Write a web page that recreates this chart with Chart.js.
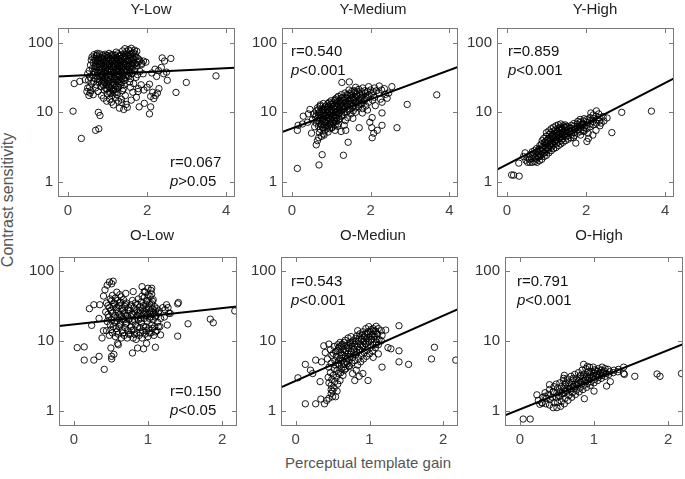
<!DOCTYPE html>
<html>
<head>
<meta charset="UTF-8">
<title>Contrast sensitivity vs perceptual template gain</title>
<script src="https://cdn.jsdelivr.net/npm/chart.js"></script>
<style>
    body { margin: 0; background: #fff; font-family: "Liberation Sans", Arial, sans-serif; }
    #wrap { position: relative; width: 685px; height: 479px; overflow: hidden; }
    canvas { position: absolute; }
    .ttl { position: absolute; font-size: 15px; line-height: 18px; color: #222; transform: translateX(-50%); white-space: nowrap; }
    .ann { position: absolute; font-size: 15px; line-height: 19px; color: #111; white-space: nowrap; }
    .axl { position: absolute; font-size: 15px; line-height: 18px; color: #555; white-space: nowrap; }
</style>
</head>
<body>
<div id="wrap">
    <div class="axl" style="left:368px;top:454px;transform:translateX(-50%)">Perceptual template gain</div>
    <div class="axl" style="left:8px;top:200px;font-size:16px;transform:translate(-50%,-50%) rotate(-90deg)">Contrast sensitivity</div>
</div>
<script>
// tick labels
const topTicks = [0, 2, 4];
const bottomTicks = [0, 1, 2];
const yTicks = [1, 10, 100];

// regression line values at the left and right edge of each panel
const yLowFit = [32.8, 44];
const yMedFit = [5.2, 45.4];
const yHighFit = [1.49, 31];
const oLowFit = [16.3, 31.2];
const oMedFit = [2.15, 28.5];
const oHighFit = [0.855, 9.0];

// points [gain, contrast sensitivity]
const yLowPts = [
    [0.13,10.4],[0.34,4.2],[0.16,26],[0.30,28],[0.44,29.5],[0.77,10],[0.81,9],[0.70,5.5],[0.78,5.8],
    [3.74,33.6],[2.99,27],[2.73,19.4],[2.60,60],[2.38,61],[2.44,55],[2.49,38],[2.51,29],[2.30,22],[2.26,19],
    [2.21,17.5],[2.14,19.5],[2.09,17],[2.17,15.8],[2.06,9.5],[2.09,12],[1.80,12],[1.93,13.5],[2.00,23],[2.06,25.5],
    [1.92,21],[1.73,16.5],[1.77,20],[1.60,15],[1.47,13],[1.50,11.8],[1.30,11.5],[1.15,12.8],[1.36,13.8],[2.20,42],
    [2.29,40],[2.36,44.5],[2.12,37],[1.41,11],[0.48,20],[0.50,22.5],[0.53,17.5],[0.56,19],[2.24,33],[2.42,36],
    [1.44,83],[1.53,80],[1.60,84],[1.68,79],[1.74,76],
    [1.22,74],[1.38,77],[1.48,75],[1.57,77],[1.66,73],[0.74,71],
    [0.66,68],[0.80,70],[0.94,69],[1.04,71],[1.14,68],[1.26,70],[1.36,68],[1.47,70],[1.58,68],[1.70,69],
    [0.61,63],[0.72,65],[0.84,62],[0.93,64],[1.02,63],[1.11,65],[1.20,62],[1.30,64],[1.42,63],[1.52,65],[1.64,62],[1.77,60],
    [0.59,57],[0.69,59],[0.78,57],[0.88,58],[0.97,56],[1.07,59],[1.17,57],[1.27,58],[1.36,56],[1.46,59],[1.56,57],[1.67,58],[1.81,57],[1.91,55],
    [0.64,52],[0.75,54],[0.84,52],[0.94,53],[1.04,51],[1.13,54],[1.23,52],[1.33,53],[1.43,51],[1.53,54],[1.63,52],[1.75,53],[1.87,51],[1.97,53],
    [0.57,48],[0.69,47],[0.80,49],[0.90,47],[1.00,48],[1.10,46],[1.20,49],[1.30,47],[1.40,48],[1.50,46],[1.62,48],[1.74,47],[1.86,49],
    [0.62,43],[0.74,45],[0.86,43],[0.96,44],[1.06,42.5],[1.16,45],[1.26,43],[1.36,44],[1.46,42],[1.58,44],[1.70,43],
    [0.54,40],[0.66,39],[0.78,41],[0.90,39],[1.00,40],[1.10,38.5],[1.22,41],[1.32,39],[1.42,40],[1.55,38.5],[1.68,40],[1.82,39],
    [0.50,36],[0.63,35],[0.75,37],[0.86,35],[0.97,36],[1.07,34.5],[1.18,37],[1.28,35],[1.39,36],[1.50,34.5],[1.62,36],[1.76,35],[1.90,36],
    [0.56,32],[0.68,31],[0.80,33],[0.92,31.5],[1.03,32],[1.14,30.5],[1.24,33],[1.35,31],[1.46,32],[1.58,30.5],[1.72,32],
    [0.52,29],[0.65,28],[0.78,29.5],[0.90,28],[1.00,29],[1.12,27.5],[1.22,29.5],[1.32,28],[1.44,29],[1.56,27.5],
    [0.60,26],[0.72,25],[0.85,26.5],[0.97,25],[1.08,26],[1.18,24.5],[1.30,26],[1.42,25],[1.66,26],[1.85,25],
    [0.55,23],[0.70,22.5],[0.84,23.5],[0.96,22],[1.06,23],[1.16,21.5],[1.28,23],[1.40,22],[1.58,23],[1.78,22],
    [0.58,20.5],[0.76,20],[0.92,21],[1.04,19.5],[1.14,20.5],[1.26,19.5],[1.38,20.5],[1.64,19.5],
    [0.64,18],[0.85,17.5],[1.00,18.5],[1.12,17.5],[1.24,18],[1.45,17.5],
    [0.90,16],[1.06,15.5],[1.20,16.2],[1.35,15.5],
    [0.98,14.5],[1.10,14],[1.28,14.5],
    [0.73,67],[0.88,67],[0.99,66],[1.09,67.5],[1.19,66],[1.31,67],[1.41,65.5],[1.53,67],[1.62,71],
    [0.66,61],[0.78,61],[0.90,60.5],[1.00,61.5],[1.12,60.5],[1.24,61],[1.34,60],[1.44,61.5],[1.58,60.5],[1.72,63],
    [0.70,55.5],[0.82,55],[0.92,56],[1.02,55],[1.12,56],[1.22,55],[1.31,55.5],[1.41,54.5],[1.51,56],[1.62,55],[1.80,54],
    [0.75,50.5],[0.86,50],[0.96,51],[1.06,50],[1.16,51],[1.26,50],[1.36,50.5],[1.47,49.5],[1.58,50.5],[1.69,50],
    [0.68,46],[0.80,45.5],[0.91,46],[1.01,45.5],[1.11,46.5],[1.21,45.5],[1.31,46],[1.41,45],[1.52,46],[1.64,45.5],
    [0.72,42],[0.84,41.5],[0.95,42],[1.05,41],[1.15,42],[1.27,41.5],[1.37,42],[1.49,41],[1.62,42],
    [0.69,38],[0.81,38],[0.92,37.5],[1.02,38.5],[1.13,37.5],[1.23,38.5],[1.34,37.5],[1.45,38],[1.57,37.5],
    [0.73,34],[0.86,33.5],[0.98,34],[1.09,33],[1.19,34.5],[1.30,33.5],[1.41,34],[1.53,33],
    [0.74,30.5],[0.86,30],[0.96,30.5],[1.07,30],[1.18,31],[1.29,30],[1.40,30.5],
    [0.79,27.5],[0.92,27],[1.03,27.5],[1.14,27],[1.25,27.5],[1.36,27],
    [0.90,24.5],[1.02,24],[1.12,24.5],[1.22,24],[1.34,24.5],
    [0.99,21.7],[1.10,22],[1.21,21.5],
    [1.08,19.2],[1.19,19]
];

const yMedPts = [
    [0.14,1.55],[0.69,1.74],[0.77,2.45],[1.31,2.4],[1.43,3.7],[0.14,5.5],[0.16,6.5],[0.27,6.8],[0.29,8.8],[0.50,5.0],
    [0.58,6.2],[0.62,3.4],[0.65,3.9],[0.68,4.3],[0.75,4.5],[0.82,4.7],[1.71,6.0],[2.04,4.3],[2.08,5.0],[2.17,5.5],
    [2.29,6.5],[2.03,6.0],[2.67,6.0],[2.93,13],[3.68,17.9],[2.29,9.8],[2.29,14],[2.04,8.4],[1.92,10.8],[1.79,9.8],
    [2.42,16],[2.38,18.2],[2.46,19],[2.54,23.5],[1.27,27],[1.46,27.5],[1.33,6.5],[1.37,5.5],[1.25,5.3],[0.42,9.5],
    [0.46,11],[0.40,7.2],[1.55,8.2],[1.62,10],[2.12,12.5],[1.98,7.2],
    [1.62,23],[1.80,22.5],[1.95,23.5],[2.10,22.5],[2.22,24],[2.35,22],
    [1.45,21],[1.58,20.5],[1.70,21.5],[1.85,20.5],[2.00,21],[2.15,20.5],[2.28,21],
    [1.35,19],[1.48,18.5],[1.60,19.5],[1.72,18.5],[1.86,19],[2.02,18.5],[2.20,19],
    [1.18,17],[1.30,16.5],[1.42,17.5],[1.54,16.5],[1.66,17],[1.78,16.5],[1.92,17],[2.10,16.5],
    [1.10,15.5],[1.22,15],[1.34,15.8],[1.46,15],[1.58,15.5],[1.70,15],[1.85,15.5],[2.05,15],[2.25,15.5],
    [0.95,14],[1.05,13.6],[1.15,14.2],[1.26,13.6],[1.38,14],[1.50,13.6],[1.62,14.2],[1.76,13.6],[1.95,14],
    [0.72,12.8],[0.86,12.4],[0.98,13],[1.08,12.4],[1.18,12.8],[1.30,12.4],[1.42,13],[1.55,12.4],[1.70,12.8],[1.88,12.4],
    [0.65,11.6],[0.78,11.2],[0.90,11.8],[1.00,11.2],[1.10,11.6],[1.22,11.2],[1.34,11.8],[1.48,11.2],[1.62,11.6],[1.80,11.3],
    [0.62,10.5],[0.74,10.2],[0.85,10.7],[0.95,10.2],[1.05,10.5],[1.15,10.1],[1.26,10.6],[1.40,10.2],[1.56,10.5],
    [0.55,9.5],[0.68,9.2],[0.80,9.7],[0.90,9.2],[1.00,9.5],[1.10,9.2],[1.20,9.7],[1.33,9.3],[1.50,9.5],
    [0.60,8.6],[0.72,8.3],[0.84,8.8],[0.94,8.3],[1.04,8.6],[1.14,8.3],[1.26,8.7],[1.42,8.4],
    [0.52,7.8],[0.66,7.6],[0.78,7.9],[0.88,7.5],[0.98,7.8],[1.08,7.5],[1.20,7.9],[1.36,7.6],
    [0.62,7.0],[0.74,6.8],[0.85,7.1],[0.96,6.8],[1.06,7.0],[1.18,6.8],
    [0.68,6.3],[0.80,6.1],[0.92,6.4],[1.02,6.1],[1.16,6.3],
    [0.72,5.7],[0.84,5.5],[0.96,5.8],[1.10,5.5],
    [0.70,5.1],[0.80,4.9],[0.92,5.2],
    [1.52,20],[1.65,20.2],[1.78,19.8],[1.92,20],[2.08,19.8],
    [1.26,18],[1.40,18],[1.52,17.8],[1.65,18.2],[1.80,17.8],[1.96,18],
    [1.14,16.2],[1.26,16],[1.38,16.4],[1.50,16],[1.62,16.2],[1.74,16],[1.88,16.3],
    [1.00,14.7],[1.10,14.8],[1.20,14.6],[1.32,14.8],[1.44,14.5],[1.56,14.8],[1.68,14.5],[1.84,14.7],
    [0.80,13.4],[0.92,13.4],[1.03,13.2],[1.13,13.5],[1.24,13.2],[1.36,13.4],[1.48,13.2],[1.62,13.4],[1.78,13.2],
    [0.72,12.2],[0.84,12],[0.94,12.2],[1.05,11.9],[1.16,12.2],[1.27,11.9],[1.40,12.2],[1.54,12],[1.70,12.1],
    [0.68,11],[0.80,10.8],[0.90,11],[1.00,10.8],[1.10,11],[1.20,10.8],[1.31,11],[1.45,10.8],
    [0.70,10],[0.80,9.9],[0.90,10],[1.00,9.9],[1.10,10],[1.21,9.9],[1.33,10],
    [0.62,9],[0.74,8.9],[0.85,9.1],[0.95,8.9],[1.05,9.1],[1.15,8.9],[1.27,9],
    [0.66,8.2],[0.78,8.1],[0.89,8.3],[0.99,8.1],[1.09,8.2],[1.20,8.1],
    [0.70,7.4],[0.82,7.3],[0.93,7.4],[1.02,7.3],[1.13,7.4],
    [0.74,6.6],[0.86,6.5],[0.98,6.6],[1.10,6.5],
    [0.78,6.0],[0.90,5.95],[1.02,6.0]
];

const yHighPts = [
    [0.12,1.25],[0.17,1.24],[0.31,1.2],[0.30,1.85],[0.48,2.04],[2.90,10],[3.65,10.4],[2.65,5.1],[2.26,10.5],[2.43,8.7],
    [2.53,8.3],[2.45,7.5],[2.35,6.4],[2.25,5.5],[2.17,4.7],[2.06,4.2],[2.02,3.8],[1.86,4.7],[1.74,3.6],[1.68,4.3],
    [2.32,9.5],[2.12,9.8],[2.38,7.0],[2.05,5.0],[1.95,5.3],[0.42,2.3],[0.46,2.6],
    [0.52,1.9],[0.53,2.2],
    [0.58,1.9],[0.57,2.1],[0.59,2.45],
    [0.64,1.9],[0.63,2.15],[0.65,2.4],[0.64,2.7],
    [0.70,1.95],[0.71,2.2],[0.69,2.5],[0.70,2.8],
    [0.76,1.9],[0.75,2.1],[0.77,2.4],[0.76,2.7],[0.75,3.0],
    [0.82,2.0],[0.83,2.3],[0.81,2.6],[0.82,2.95],[0.83,3.3],
    [0.88,2.1],[0.87,2.4],[0.89,2.75],[0.88,3.1],[0.87,3.5],[0.89,3.9],
    [0.94,2.3],[0.95,2.6],[0.93,2.95],[0.94,3.3],[0.95,3.7],[0.93,4.2],
    [1.00,2.4],[1.01,2.75],[0.99,3.1],[1.00,3.5],[1.01,3.95],[0.99,4.5],[1.00,5.1],
    [1.06,2.6],[1.05,2.95],[1.07,3.35],[1.06,3.75],[1.05,4.2],[1.07,4.8],[1.06,5.4],
    [1.12,2.8],[1.13,3.15],[1.11,3.55],[1.12,4.0],[1.13,4.5],[1.11,5.1],[1.12,5.8],
    [1.18,3.0],[1.17,3.4],[1.19,3.8],[1.18,4.25],[1.17,4.8],[1.19,5.4],[1.18,6.1],
    [1.24,3.1],[1.25,3.5],[1.23,3.95],[1.24,4.4],[1.25,4.95],[1.23,5.6],[1.24,6.4],
    [1.30,3.3],[1.29,3.7],[1.31,4.2],[1.30,4.7],[1.29,5.3],[1.31,5.9],[1.30,6.6],
    [1.36,3.5],[1.37,3.9],[1.35,4.4],[1.36,4.9],[1.37,5.5],[1.35,6.1],[1.36,6.8],
    [1.42,3.7],[1.41,4.15],[1.43,4.65],[1.42,5.2],[1.41,5.8],[1.43,6.4],
    [1.48,3.9],[1.49,4.4],[1.47,4.9],[1.48,5.4],[1.49,6.0],[1.47,6.6],
    [1.55,4.1],[1.54,4.6],[1.56,5.1],[1.55,5.6],[1.54,6.2],
    [1.62,4.3],[1.63,4.8],[1.61,5.3],[1.62,5.9],[1.63,6.5],
    [1.70,4.6],[1.69,5.1],[1.71,5.7],[1.70,6.3],[1.69,6.9],
    [1.78,5.0],[1.79,5.6],[1.77,6.2],[1.78,6.8],[1.79,7.4],
    [1.86,5.3],[1.85,5.9],[1.87,6.5],[1.86,7.2],[1.85,7.9],
    [1.94,5.5],[1.95,6.1],[1.93,6.8],[1.94,7.5],[1.95,8.1],
    [2.02,5.8],[2.01,6.5],[2.03,7.2],[2.02,7.9],
    [2.10,6.2],[2.11,6.9],[2.09,7.6],[2.10,8.4],
    [2.18,6.6],[2.17,7.4],[2.19,8.2],[2.18,9.2],
    [2.26,7.0],[2.27,7.9],[2.25,8.8],
    [2.34,7.5],[2.33,8.4],
    [0.97,2.9],[0.97,3.7],[1.03,3.1],[1.03,4.0],[1.09,3.3],[1.09,4.3],[1.15,3.6],[1.15,4.6],[1.21,3.8],[1.21,4.9],
    [1.27,4.0],[1.27,5.2],[1.33,4.3],[1.33,5.5],[1.39,4.5],[1.39,5.8],[1.45,4.7],[1.45,6.1],[1.51,5.0],[1.51,6.3],
    [1.58,5.3],[1.66,5.5],[1.74,5.9],[1.82,6.3],[1.90,6.7],[0.91,2.55],[0.85,2.45],[0.79,2.25]
];

const oLowPts = [
    [0.045,8.0],[0.14,8.2],[0.14,5.3],[0.27,5.3],[0.34,6.0],[0.41,3.9],[0.21,29],[0.27,33],[0.35,33],[0.24,16.7],
    [0.34,21],[0.40,44],[0.42,54],[0.45,63],[0.48,70],[0.51,66],[0.53,72],[0.80,51],[0.95,51],[1.00,57],
    [1.05,57],[1.05,47],[1.40,34],[1.41,35.5],[1.26,16.9],[1.17,12.2],[1.40,11.7],[1.54,17.6],[1.84,20.5],[1.88,18.2],
    [2.17,26.9],[1.30,24.8],[1.10,8.1],[0.94,7.7],[0.79,6.7],[0.86,7.9],[0.50,7.9],[0.51,6.0],[0.51,5.5],[0.54,6.4],
    [0.59,9.2],[0.60,8.8],[0.98,9.2],[0.38,11],[0.40,14],[0.58,50],[0.62,46],[0.70,48],[0.92,60],[1.20,30],[1.25,33],
    [0.44,14],[0.45,19],[0.43,26],[0.44,35],
    [0.48,12],[0.49,17],[0.47,22],[0.48,30],[0.49,40],
    [0.52,13],[0.53,16],[0.51,20],[0.52,25],[0.53,31],[0.51,38],[0.52,45],
    [0.56,11.5],[0.57,15],[0.55,18.5],[0.56,23],[0.57,28],[0.55,34],[0.56,41],
    [0.60,12.5],[0.61,16],[0.59,21],[0.60,26],[0.61,32],[0.59,38],
    [0.64,11],[0.65,14],[0.63,18],[0.64,23],[0.65,29],[0.63,36],[0.64,43],
    [0.68,12],[0.69,15.5],[0.67,20],[0.68,25],[0.69,31],[0.67,39],
    [0.72,11],[0.73,14],[0.71,18],[0.72,22.5],[0.73,28],[0.71,35],
    [0.76,12.5],[0.77,16],[0.75,21],[0.76,27],[0.77,33],
    [0.80,11],[0.81,14.5],[0.79,19],[0.80,24],[0.81,30],[0.79,38],
    [0.84,10.5],[0.85,13],[0.83,17],[0.84,22],[0.85,28],[0.83,35],
    [0.88,12],[0.89,15.5],[0.87,20],[0.88,25],[0.89,31],[0.87,40],
    [0.92,11],[0.93,14],[0.91,18],[0.92,23],[0.93,29],[0.91,36],[0.92,44],
    [0.96,12.5],[0.97,16],[0.95,21],[0.96,26],[0.97,33],[0.95,42],[0.96,50],
    [1.00,11.5],[1.01,15],[0.99,19],[1.00,24],[1.01,30],[0.99,38],[1.00,46],
    [1.04,13],[1.05,17],[1.03,22],[1.04,27],[1.05,34],[1.03,43],[1.04,53],
    [1.08,12],[1.09,16],[1.07,20],[1.08,25],[1.09,31],[1.07,39],
    [1.12,14],[1.13,18.5],[1.11,23],[1.12,29],
    [1.16,16],[1.17,21],[1.15,27],
    [1.22,22],[1.23,28],
    [1.28,25],[1.27,30],
    [0.50,14.5],[0.50,27.5],[0.54,22],[0.54,35],[0.58,13.5],[0.58,19.5],[0.58,30],[0.62,17],[0.62,24],[0.62,35],
    [0.66,13],[0.66,21],[0.66,27],[0.70,17.5],[0.70,23],[0.70,33],[0.74,12.5],[0.74,20],[0.74,30],[0.78,14],
    [0.78,24],[0.82,12.5],[0.82,20],[0.82,26],[0.86,16],[0.86,23],[0.86,33],[0.90,13],[0.90,21],[0.90,27],
    [0.94,16],[0.94,25],[0.94,32],[0.98,14],[0.98,23],[0.98,29],[0.98,37],[1.02,13],[1.02,21],[1.02,26],
    [1.02,34],[1.06,15],[1.06,24],[1.06,29],[1.06,37],[1.10,13.5],[1.10,22],[1.10,27],[1.14,16],[1.14,25],
    [0.46,24],[0.46,32]
];

const oMedPts = [
    [0.13,1.25],[0.27,1.25],[0.39,1.25],[0.34,1.46],[0.42,1.4],[0.45,1.5],[0.50,1.58],[0.54,1.58],[0.03,2.95],[0.13,4.6],
    [0.20,3.8],[0.23,3.4],[0.27,5.3],[0.35,5.0],[0.33,2.6],[0.45,2.5],[0.48,2.0],[0.50,1.9],[0.48,1.75],[1.17,4.2],
    [1.25,8.0],[1.29,7.7],[1.40,7.2],[1.40,5.0],[1.53,4.6],[1.84,5.5],[1.88,8.1],[2.17,5.3],[1.40,16.5],[1.16,14],
    [1.22,14.3],[0.98,2.7],[0.86,3.1],[0.80,2.7],[0.91,3.4],[0.77,3.4],[0.70,4.7],[0.73,4.3],[0.82,3.8],[0.66,3.8],
    [1.05,5.8],[1.09,9.0],[0.40,6.8],[0.38,8.5],[0.45,9.0],[1.12,6.5],
    [0.44,3.0],[0.45,4.2],[0.43,5.5],
    [0.48,2.3],[0.49,2.8],[0.47,3.5],[0.48,4.8],[0.49,6.2],[0.47,7.5],
    [0.52,2.1],[0.53,2.6],[0.51,3.2],[0.52,4.0],[0.53,5.2],[0.51,6.6],[0.52,8.3],
    [0.56,1.9],[0.57,2.4],[0.55,3.0],[0.56,3.8],[0.57,4.8],[0.55,6.0],[0.56,7.2],[0.57,8.8],
    [0.60,2.7],[0.61,3.5],[0.59,4.5],[0.60,5.6],[0.61,6.8],[0.59,8.2],[0.60,9.5],
    [0.64,3.2],[0.65,4.2],[0.63,5.2],[0.64,6.3],[0.65,7.6],[0.63,9.0],
    [0.68,4.0],[0.69,5.0],[0.67,6.0],[0.68,7.2],[0.69,8.6],[0.67,10.2],
    [0.72,4.4],[0.73,5.4],[0.71,6.5],[0.72,7.8],[0.73,9.4],[0.71,11],
    [0.76,4.8],[0.77,5.8],[0.75,7.0],[0.76,8.4],[0.77,10],[0.75,11.5],
    [0.80,5.2],[0.81,6.3],[0.79,7.5],[0.80,9.0],[0.81,10.8],
    [0.84,4.5],[0.85,5.6],[0.83,6.8],[0.84,8.2],[0.85,9.8],[0.83,11.8],[0.84,14],
    [0.88,5.0],[0.89,6.2],[0.87,7.4],[0.88,8.8],[0.89,10.5],[0.87,12.6],
    [0.92,5.5],[0.93,6.8],[0.91,8.2],[0.92,9.8],[0.93,11.5],[0.91,13.5],
    [0.96,6.0],[0.97,7.4],[0.95,9.0],[0.96,10.8],[0.97,12.8],[0.95,15],
    [1.00,6.5],[1.01,8.0],[0.99,9.6],[1.00,11.4],[1.01,13.6],[0.99,16],
    [1.04,7.2],[1.05,8.8],[1.03,10.5],[1.04,12.5],[1.05,15],
    [1.08,8.0],[1.09,9.6],[1.07,11.5],[1.08,13.8],[1.09,16.2],
    [1.12,8.8],[1.13,10.5],[1.11,12.6],[1.12,15],
    [1.16,10],[1.17,12],
    [0.54,4.5],[0.54,7.0],[0.58,3.4],[0.58,5.2],[0.58,7.8],[0.62,4.0],[0.62,6.2],[0.62,8.5],[0.66,4.6],[0.66,6.8],
    [0.66,9.5],[0.70,5.6],[0.70,8.0],[0.74,6.0],[0.74,8.8],[0.78,6.5],[0.78,9.4],[0.82,7.0],[0.82,10],[0.86,7.6],
    [0.86,11],[0.90,8.5],[0.90,12],[0.94,9.2],[0.94,12.5],[0.98,10],[0.98,13.5],[1.02,10.5],[1.02,14.5],[1.06,11.5],
    [1.06,14],[1.10,12.5],[1.10,10.5]
];

const oHighPts = [
    [0.045,0.755],[0.14,0.755],[0.23,1.68],[0.27,1.23],[0.30,1.28],[0.40,2.35],[0.45,1.87],[0.59,2.9],[0.87,1.48],[1.17,2.25],
    [1.40,4.2],[1.40,3.4],[1.41,3.3],[1.55,3.1],[1.85,3.35],[1.89,3.1],[2.18,3.4],[0.86,4.6],[0.91,4.3],[0.25,1.4],
    [0.34,1.6],[0.60,3.2],[1.00,1.9],[1.22,2.6],
    [0.30,1.3],[0.31,1.55],
    [0.35,1.25],[0.36,1.5],[0.34,1.8],
    [0.40,1.2],[0.41,1.45],[0.39,1.7],[0.40,2.0],
    [0.45,1.1],[0.46,1.3],[0.44,1.55],[0.45,1.85],[0.46,2.2],
    [0.50,1.1],[0.51,1.3],[0.49,1.55],[0.50,1.8],[0.51,2.1],[0.49,2.4],
    [0.55,1.15],[0.56,1.35],[0.54,1.6],[0.55,1.9],[0.56,2.2],[0.54,2.5],
    [0.60,1.25],[0.61,1.5],[0.59,1.75],[0.60,2.05],[0.61,2.35],[0.59,2.7],
    [0.65,1.4],[0.66,1.65],[0.64,1.9],[0.65,2.2],[0.66,2.5],[0.64,2.85],
    [0.70,1.55],[0.71,1.8],[0.69,2.05],[0.70,2.35],[0.71,2.7],[0.69,3.1],
    [0.75,1.7],[0.76,1.95],[0.74,2.2],[0.75,2.5],[0.76,2.85],[0.74,3.3],
    [0.80,1.85],[0.81,2.1],[0.79,2.4],[0.80,2.7],[0.81,3.05],[0.79,3.5],
    [0.85,2.0],[0.86,2.3],[0.84,2.6],[0.85,2.9],[0.86,3.3],[0.84,3.8],
    [0.90,2.15],[0.91,2.45],[0.89,2.75],[0.90,3.1],[0.91,3.5],[0.89,4.0],
    [0.95,2.3],[0.96,2.6],[0.94,2.9],[0.95,3.25],[0.96,3.65],[0.94,4.2],
    [1.00,2.5],[1.01,2.8],[0.99,3.1],[1.00,3.45],[1.01,3.85],[0.99,4.2],
    [1.05,2.7],[1.06,3.0],[1.04,3.3],[1.05,3.65],[1.06,4.0],
    [1.10,2.9],[1.11,3.2],[1.09,3.5],[1.10,3.8],[1.11,4.2],
    [1.15,3.1],[1.16,3.4],[1.14,3.7],[1.15,4.0],
    [1.20,3.3],[1.21,3.6],[1.19,3.9],
    [1.26,3.5],[1.27,3.8],
    [1.32,3.6],[1.33,3.9],
    [0.52,1.65],[0.57,1.75],[0.62,1.9],[0.67,2.05],[0.72,2.2],[0.77,2.35],[0.82,2.55],[0.87,2.7],[0.92,2.9],[0.97,3.05],
    [1.02,3.2],[1.07,3.4],[1.12,3.55],[0.62,2.5],[0.72,2.9],[0.82,3.2],[0.92,3.6],[1.02,3.7]
];

// layout: plot box [left, top, right, bottom] in page pixels
const panels = [
    { title: 'Y-Low',    pts: yLowPts,  fit: yLowFit,  r: 'r=0.067', p: '&gt;0.05',  box: [58, 20, 235, 197],  xMin: -0.25, xMax: 4.22, ticks: topTicks, yMin: 0.645, yMax: 165, titlePos: [151, 0],   annPos: [170, 152] },
    { title: 'Y-Medium', pts: yMedPts,  fit: yMedFit,  r: 'r=0.540', p: '&lt;0.001', box: [282, 20, 458, 197], xMin: -0.25, xMax: 4.22, ticks: topTicks, yMin: 0.645, yMax: 165, titlePos: [373, 0],   annPos: [291, 41] },
    { title: 'Y-High',   pts: yHighPts, fit: yHighFit, r: 'r=0.859', p: '&lt;0.001', box: [497, 20, 674, 197], xMin: -0.25, xMax: 4.22, ticks: topTicks, yMin: 0.645, yMax: 165, titlePos: [595, 0],   annPos: [508, 41] },
    { title: 'O-Low',    pts: oLowPts,  fit: oLowFit,  r: 'r=0.150', p: '&lt;0.05',  box: [59, 249, 237, 426], xMin: -0.2, xMax: 2.2, ticks: bottomTicks, yMin: 0.63, yMax: 160, titlePos: [152, 226], annPos: [170, 381] },
    { title: 'O-Mediun', pts: oMedPts,  fit: oMedFit,  r: 'r=0.543', p: '&lt;0.001', box: [281, 249, 458, 426], xMin: -0.2, xMax: 2.2, ticks: bottomTicks, yMin: 0.63, yMax: 160, titlePos: [373, 226], annPos: [291, 271] },
    { title: 'O-High',   pts: oHighPts, fit: oHighFit, r: 'r=0.791', p: '&lt;0.001', box: [505, 249, 683, 426], xMin: -0.2, xMax: 2.2, ticks: bottomTicks, yMin: 0.63, yMax: 160, titlePos: [599, 226], annPos: [517, 271] }
];

const PAD_L = 44, PAD_T = 6, PAD_R = 6, PAD_B = 26;

// frame with inward ticks on all four sides
const boxPlugin = {
    id: 'box',
    afterDraw(chart) {
        const { ctx, chartArea: a, scales: { x, y } } = chart;
        ctx.save();
        ctx.strokeStyle = '#7a7a7a';
        ctx.lineWidth = 1;
        ctx.strokeRect(a.left + 0.5, a.top + 0.5, a.right - a.left - 1, a.bottom - a.top - 1);
        ctx.beginPath();
        x.ticks.forEach(t => {
            const px = Math.round(x.getPixelForValue(t.value)) + 0.5;
            ctx.moveTo(px, a.bottom); ctx.lineTo(px, a.bottom - 5);
            ctx.moveTo(px, a.top); ctx.lineTo(px, a.top + 5);
        });
        y.ticks.forEach(t => {
            const py = Math.round(y.getPixelForValue(t.value)) + 0.5;
            ctx.moveTo(a.left, py); ctx.lineTo(a.left + 5, py);
            ctx.moveTo(a.right, py); ctx.lineTo(a.right - 5, py);
        });
        ctx.stroke();
        ctx.restore();
    }
};

Chart.defaults.font.family = '"Liberation Sans", Arial, sans-serif';
Chart.defaults.font.size = 15;
Chart.defaults.color = '#333';

const wrap = document.getElementById('wrap');

panels.forEach(pn => {
    const [l, t, r, b] = pn.box;
    const canvas = document.createElement('canvas');
    const w = r - l + PAD_L + PAD_R;
    const h = b - t + PAD_T + PAD_B;
    canvas.width = w; canvas.height = h;
    canvas.style.width = w + 'px'; canvas.style.height = h + 'px';
    canvas.style.left = (l - PAD_L) + 'px';
    canvas.style.top = (t - PAD_T) + 'px';
    wrap.appendChild(canvas);

    new Chart(canvas.getContext('2d'), {
        type: 'scatter',
        data: {
            datasets: [
                {
                    type: 'line',
                    data: [{ x: pn.xMin, y: pn.fit[0] }, { x: pn.xMax, y: pn.fit[1] }],
                    borderColor: '#000',
                    borderWidth: 2,
                    pointRadius: 0,
                    order: 0
                },
                {
                    data: pn.pts.map(d => ({ x: d[0], y: d[1] })),
                    pointRadius: 3.2,
                    pointBorderWidth: 0.9,
                    borderColor: '#000',
                    backgroundColor: 'rgba(0,0,0,0)',
                    order: 1
                }
            ]
        },
        options: {
            responsive: false,
            animation: false,
            layout: { padding: { left: 0, top: PAD_T, right: PAD_R, bottom: 0 }, autoPadding: false },
            plugins: { legend: { display: false }, tooltip: { enabled: false } },
            scales: {
                x: {
                    type: 'linear', min: pn.xMin, max: pn.xMax,
                    grid: { display: false, drawTicks: false },
                    border: { display: false },
                    afterBuildTicks: s => { s.ticks = pn.ticks.map(v => ({ value: v })); },
                    afterFit: s => { s.height = PAD_B; },
                    ticks: { padding: 5, color: '#444', callback: v => String(v) }
                },
                y: {
                    type: 'logarithmic', min: pn.yMin, max: pn.yMax,
                    grid: { display: false, drawTicks: false },
                    border: { display: false },
                    afterBuildTicks: s => { s.ticks = yTicks.map(v => ({ value: v })); },
                    afterFit: s => { s.width = PAD_L; },
                    ticks: { padding: 5, color: '#333', callback: v => String(v) }
                }
            }
        },
        plugins: [boxPlugin]
    });

    const ttl = document.createElement('div');
    ttl.className = 'ttl';
    ttl.style.left = pn.titlePos[0] + 'px';
    ttl.style.top = pn.titlePos[1] + 'px';
    ttl.textContent = pn.title;
    wrap.appendChild(ttl);

    const ann = document.createElement('div');
    ann.className = 'ann';
    ann.style.left = pn.annPos[0] + 'px';
    ann.style.top = pn.annPos[1] + 'px';
    ann.innerHTML = pn.r + '<br><i>p</i>' + pn.p;
    wrap.appendChild(ann);
});
</script>
</body>
</html>
